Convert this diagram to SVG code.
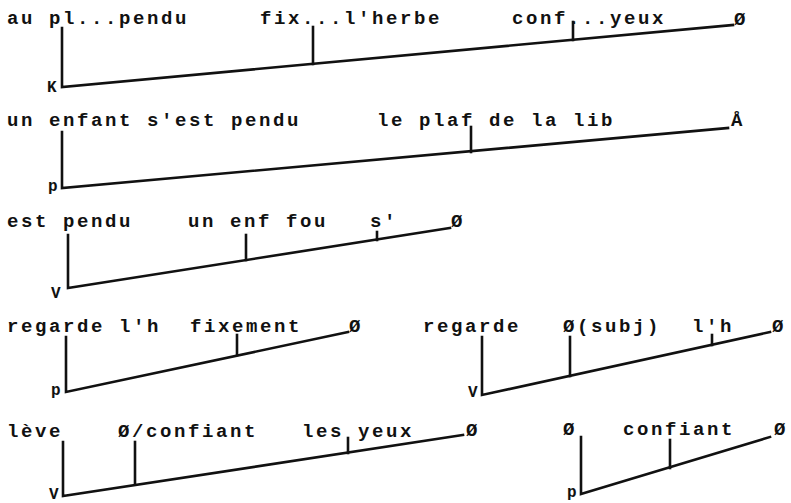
<svg xmlns="http://www.w3.org/2000/svg" width="791" height="503" viewBox="0 0 791 503">
<style>
text{font-family:"Liberation Mono","DejaVu Sans Mono",monospace;font-weight:bold;fill:#111}
.w{font-size:19px;letter-spacing:2.6px}
.c{font-size:16px}
.ln{stroke:#111;stroke-width:2.6;fill:none;stroke-linecap:square}
</style>
<rect width="791" height="503" fill="#fff"/>
<g id="connectors" class="ln">
<path d="M62,28 V87 L733,25"/>
<path d="M313,27 V64"/>
<path d="M573,22 V40"/>
<path d="M62,132 V188 L728,128"/>
<path d="M471,127 V152"/>
<path d="M68,235 V288 L450,228"/>
<path d="M246,235 V260"/>
<path d="M377,232 V240"/>
<path d="M66,337 V392 L348,332"/>
<path d="M237,335 V355"/>
<path d="M482,337 V395 L770,332"/>
<path d="M570,337 V376"/>
<path d="M712,335 V345"/>
<path d="M63,442 V496 L463,435"/>
<path d="M135,442 V484"/>
<path d="M348,438 V453"/>
<path d="M581,437 V494 L770,437"/>
<path d="M670,440 V468"/>
</g>
<g id="tree1">
<text class="w" x="7" y="24">au pl...pendu</text>
<text class="w" x="260" y="24">fix...l'herbe</text>
<text class="w" x="512" y="24">conf...yeux</text>
<text class="w" x="734" y="25">Ø</text>
<text class="c" x="47" y="92">K</text>
</g>
<g id="tree2">
<text class="w" x="7" y="126">un enfant s'est pendu</text>
<text class="w" x="377" y="126">le plaf de la lib</text>
<text class="w" x="731" y="126">Å</text>
<text class="c" x="48" y="191">p</text>
</g>
<g id="tree3">
<text class="w" x="7" y="227">est pendu</text>
<text class="w" x="188" y="227">un enf fou</text>
<text class="w" x="370" y="227">s'</text>
<text class="w" x="451" y="227">Ø</text>
<text class="c" x="51" y="298">V</text>
</g>
<g id="tree4">
<text class="w" x="7" y="332">regarde l'h</text>
<text class="w" x="190" y="332">fixement</text>
<text class="w" x="349" y="332">Ø</text>
<text class="c" x="51" y="395">p</text>
</g>
<g id="tree5">
<text class="w" x="423" y="332">regarde</text>
<text class="w" x="563" y="332">Ø(subj)</text>
<text class="w" x="692" y="332">l'h</text>
<text class="w" x="772" y="332">Ø</text>
<text class="c" x="468" y="397">V</text>
</g>
<g id="tree6">
<text class="w" x="7" y="437">lève</text>
<text class="w" x="118" y="437">Ø/confiant</text>
<text class="w" x="302" y="437">les yeux</text>
<text class="w" x="466" y="436">Ø</text>
<text class="c" x="49" y="499">V</text>
</g>
<g id="tree7">
<text class="w" x="563" y="435">Ø</text>
<text class="w" x="623" y="435">confiant</text>
<text class="w" x="774" y="435">Ø</text>
<text class="c" x="567" y="497">p</text>
</g>
</svg>
